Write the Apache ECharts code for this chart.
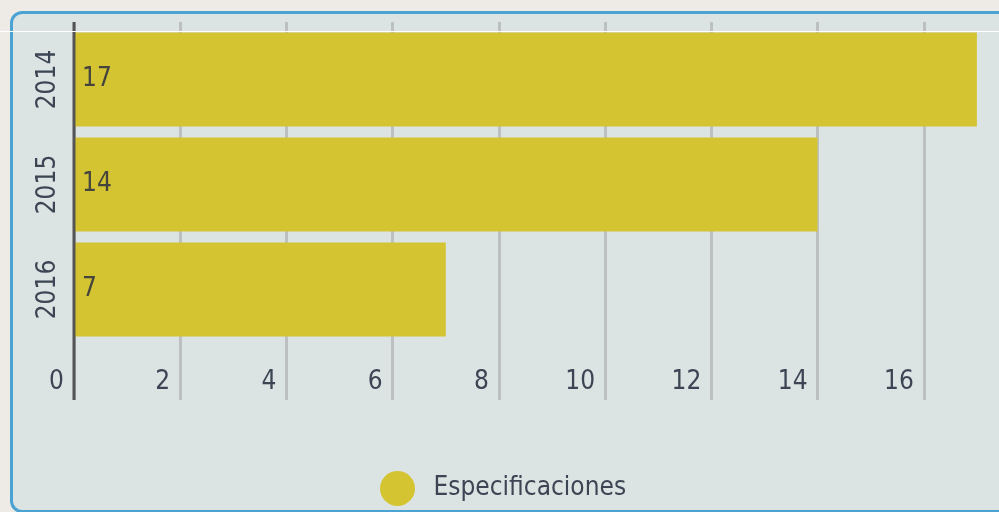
<!DOCTYPE html>
<html>
<head>
<meta charset="utf-8">
<script src="https://cdn.jsdelivr.net/npm/echarts@6/dist/echarts.min.js"></script>
<style>
  html, body { margin: 0; padding: 0; background: #eeebe6; }
  #panel {
    position: absolute; left: 10px; top: 11px; width: 1010px; height: 496px;
    border: 3px solid #4ba3d3; border-radius: 12px; background: #dce3e3;
  }
  #main { position: absolute; left: 0; top: 0; width: 999px; height: 512px; }
</style>
</head>
<body>
<div id="panel"></div>
<div id="main"></div>
<script>
// datos
const years = ['2014', '2015', '2016'];
const especificaciones = [17, 14, 7];
const seriesName = 'Especificaciones';

const font = "'DejaVu Sans Condensed', 'DejaVu Sans', sans-serif";
const textColor = '#3c4553';

const chart = echarts.init(document.getElementById('main'));
const option = {
  animation: false,
  backgroundColor: 'transparent',
  grid: { left: 74, width: 956, top: 27, height: 315, outerBoundsMode: 'none', containLabel: false },
  legend: {
    data: [seriesName],
    left: 375,
    top: 466,
    icon: 'circle',
    itemWidth: 62,
    itemHeight: 35,
    textStyle: { fontFamily: font, fontSize: 26, color: textColor, padding: [4, 0, 0, 0] }
  },
  xAxis: [
    {
      type: 'value',
      position: 'bottom',
      min: 0,
      max: 18,
      interval: 2,
      axisLine: { show: false },
      axisTick: { show: true, length: 58, lineStyle: { color: '#bcc0c0', width: 3 } },
      splitLine: { show: true, lineStyle: { color: '#bcc0c0', width: 3 } },
      axisLabel: {
        fontFamily: font,
        fontSize: 26,
        color: textColor,
        align: 'right',
        verticalAlign: 'middle',
        margin: 40,
        padding: [0, 10, 0, 0],
        formatter: v => (v > 16 ? '' : String(v))
      }
    },
    {
      // solo los ticks cortos de arriba
      type: 'value',
      position: 'top',
      min: 0,
      max: 18,
      interval: 2,
      axisLine: { show: false },
      axisTick: { show: true, length: 5, lineStyle: { color: '#bcc0c0', width: 3 } },
      splitLine: { show: false },
      axisLabel: { show: false }
    }
  ],
  yAxis: {
    type: 'category',
    data: years,
    inverse: true,
    axisLine: { show: false },
    axisTick: { show: false },
    axisLabel: {
      rotate: 90,
      fontFamily: font,
      fontSize: 26,
      lineHeight: 26,
      color: textColor,
      margin: 13
    }
  },
  series: [
    {
      name: seriesName,
      type: 'bar',
      data: especificaciones,
      barWidth: 94,
      itemStyle: { color: '#d4c432' },
      label: {
        show: true,
        position: 'insideLeft',
        distance: 8,
        fontFamily: font,
        fontSize: 26,
        color: '#45453d',
        padding: [4, 0, 0, 0]
      }
    }
  ],
  graphic: [
    {
      type: 'line',
      z: 100,
      shape: { x1: 74, y1: 22, x2: 74, y2: 400 },
      style: { stroke: '#555555', lineWidth: 3 }
    },
    {
      type: 'line',
      z: 100,
      shape: { x1: 0, y1: 31.5, x2: 999, y2: 31.5 },
      style: { stroke: '#ffffff', lineWidth: 1 }
    }
  ]
};
chart.setOption(option);
</script>
</body>
</html>
